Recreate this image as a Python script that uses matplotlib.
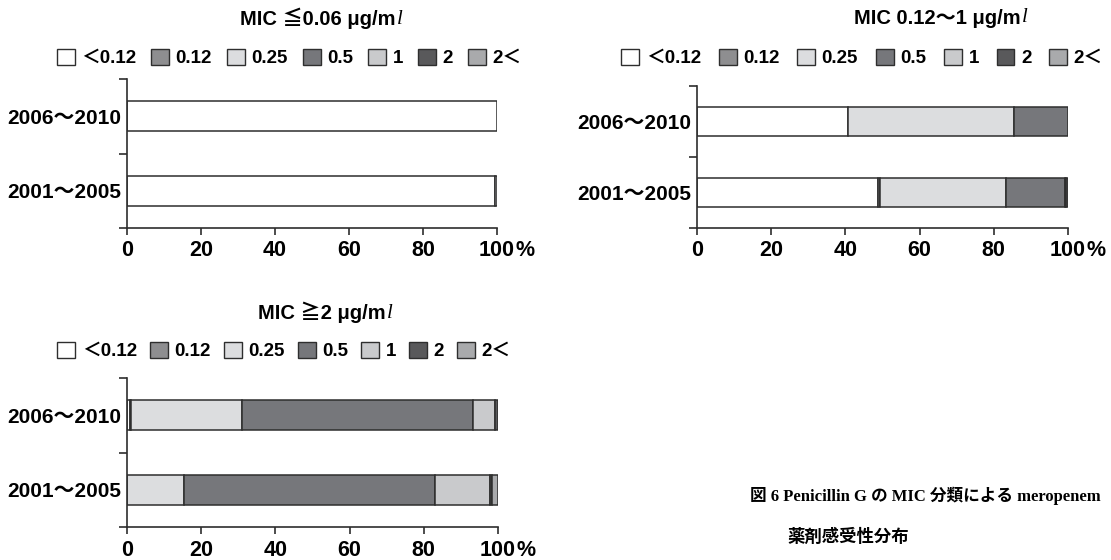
"""Penicillin G MIC class vs meropenem susceptibility distribution (figure 6)."""

import matplotlib

matplotlib.use("Agg")
import matplotlib.pyplot as plt
import numpy as np
from matplotlib.patches import Patch

plt.rcParams["font.family"] = ["Liberation Sans", "Noto Sans CJK JP"]
plt.rcParams["font.weight"] = "bold"

# meropenem MIC classes (legend order)
mic_classes = ["＜0.12", "0.12", "0.25", "0.5", "1", "2", "2＜"]
class_colors = ["#ffffff", "#8e8e90", "#dcdddf", "#76777b", "#c9cacc", "#59595b", "#a9aaac"]

periods = ["2001〜2005", "2006〜2010"]  # bottom to top

# percent of isolates per meropenem MIC class, one row per period
low_2001 = [99.4, 0, 0.6, 0, 0, 0, 0]
low_2006 = [100.0, 0, 0, 0, 0, 0, 0]

mid_2001 = [48.7, 0.7, 34.0, 15.7, 0.3, 0.6, 0]
mid_2006 = [40.8, 0, 44.6, 14.6, 0, 0, 0]

high_2001 = [0, 0, 15.4, 67.5, 15.0, 0.6, 1.5]
high_2006 = [0.9, 0.2, 29.8, 62.3, 6.1, 0.7, 0]

panel_titles = ["MIC ≦0.06 μg/m", "MIC 0.12〜1 μg/m", "MIC ≧2 μg/m"]
tick_vals = [0, 20, 40, 60, 80, 100]
tick_text = ["0", "20", "40", "60", "80", "100"]

W, H = 1111, 560
EDGE = "#2e2e2e"
LABEL_SIZE = 15.5


def px_rect(left, right, top, bottom):
    return [left / W, 1 - bottom / H, (right - left) / W, (bottom - top) / H]


def draw_panel(ax, rows):
    data = np.array(rows)
    ypos = np.arange(len(periods))
    left = np.zeros(len(periods))
    for j, col in enumerate(class_colors):
        vals = data[:, j]
        mask = vals > 0
        ax.barh(ypos[mask], vals[mask], left=left[mask], height=0.4,
                color=col, edgecolor=EDGE, linewidth=1.1)
        left += vals
    ax.set_xlim(0, 100)
    ax.set_ylim(-0.5, 1.5)
    ax.spines[["top", "right"]].set_visible(False)
    for s in ("left", "bottom"):
        ax.spines[s].set_linewidth(1.2)
        ax.spines[s].set_color(EDGE)
    ax.set_xticks(tick_vals, tick_text)
    ax.set_yticks(ypos, periods)
    ax.set_yticks([-0.5, 0.5, 1.5], minor=True)
    ax.tick_params(axis="y", which="major", length=0, pad=4, labelsize=15)
    ax.tick_params(axis="y", which="minor", length=6, width=1.2, color=EDGE)
    ax.tick_params(axis="x", length=5, width=1.2, color=EDGE, pad=4, labelsize=LABEL_SIZE)
    ax.annotate("%", xy=(100, 0), xycoords=("data", "axes fraction"),
                xytext=(13, -9), textcoords="offset points",
                ha="left", va="top", fontsize=LABEL_SIZE)


fig = plt.figure(figsize=(W / 100, H / 100), dpi=100)

ax1 = fig.add_axes(px_rect(127, 497, 79, 228))
ax2 = fig.add_axes(px_rect(697, 1068, 86, 228))
ax3 = fig.add_axes(px_rect(127, 498, 378, 527))

draw_panel(ax1, [low_2001, low_2006])
draw_panel(ax2, [mid_2001, mid_2006])
draw_panel(ax3, [high_2001, high_2006])

handles = [Patch(facecolor=c, edgecolor=EDGE, linewidth=1.0) for c in class_colors]
for cx, cy, gap in [(289, 58, 0.8), (862, 58, 0.95), (284, 351, 0.7)]:
    fig.legend(handles, mic_classes, loc="center", bbox_to_anchor=(cx / W, 1 - cy / H),
               ncol=7, frameon=False, fontsize=13.5, handlelength=0.95, handleheight=0.95,
               handletextpad=0.35, columnspacing=gap, borderpad=0)

# titles: "μg/m" plus an italic l
for title, (xr, yc) in zip(panel_titles, [(396, 18), (1021, 18), (386, 312)]):
    t = fig.text(xr / W, 1 - yc / H, title, ha="right", va="center", fontsize=14.5)
    ax1.annotate("l", xy=(1, 0), xycoords=t, xytext=(0.5, 0), textcoords="offset points",
                 ha="left", va="bottom", fontsize=15, style="italic", weight="normal",
                 family="Liberation Serif", annotation_clip=False)

cap_font = ["Liberation Serif", "Noto Sans CJK JP"]
fig.text(750 / W, 1 - 496 / H, "図 6 Penicillin G の MIC 分類による meropenem",
         family=cap_font, fontsize=12, va="center", ha="left")
fig.text(787 / W, 1 - 537 / H, "薬剤感受性分布",
         family=cap_font, fontsize=12.5, va="center", ha="left")

fig.savefig("out.png", dpi=100)
